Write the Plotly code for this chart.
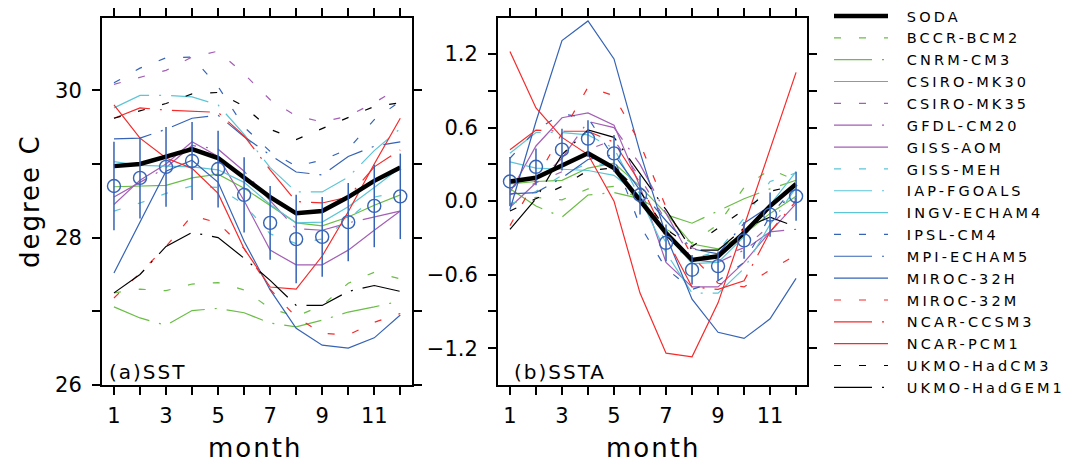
import plotly.graph_objects as go

months = list(range(1, 13))
month_ticktext = ["1", "", "3", "", "5", "", "7", "", "9", "", "11", ""]

# SODA reanalysis (thick black line)
soda_sst = [28.97, 29.00, 29.10, 29.20, 29.08, 28.82, 28.55, 28.33, 28.36, 28.55, 28.77, 28.95]
soda_ssta = [0.16, 0.19, 0.29, 0.39, 0.27, 0.01, -0.26, -0.48, -0.45, -0.26, -0.04, 0.14]

# observation circles with spread bars
obs_sst = [28.70, 28.81, 28.96, 29.04, 28.93, 28.58, 28.20, 27.98, 28.01, 28.21, 28.43, 28.56]
obs_sst_err = [0.60, 0.55, 0.54, 0.53, 0.52, 0.51, 0.50, 0.60, 0.54, 0.53, 0.56, 0.58]
obs_ssta = [0.16, 0.28, 0.42, 0.51, 0.39, 0.05, -0.34, -0.56, -0.53, -0.32, -0.11, 0.04]
obs_ssta_err = [0.20, 0.15, 0.17, 0.15, 0.15, 0.16, 0.15, 0.12, 0.12, 0.15, 0.18, 0.20]

# model SST (panel a) and SSTA (panel b)
bccr_sst = [27.25, 27.30, 27.28, 27.37, 27.39, 27.29, 27.04, 26.93, 27.08, 27.38, 27.53, 27.44]
bccr_ssta = [-0.02, 0.03, 0.01, 0.10, 0.12, 0.02, -0.23, -0.34, -0.19, 0.11, 0.26, 0.17]
cnrm_sst = [27.06, 26.91, 26.81, 27.01, 27.04, 26.98, 26.84, 26.79, 26.88, 26.99, 27.06, 27.14]
cnrm_ssta = [0.10, -0.04, -0.13, 0.05, 0.07, 0.02, -0.11, -0.18, -0.08, 0.02, 0.10, 0.17]
csiro30_sst = [28.69, 28.70, 28.71, 28.81, 28.86, 28.67, 28.44, 28.20, 28.16, 28.28, 28.44, 28.58]
csiro30_ssta = [0.14, 0.16, 0.17, 0.27, 0.31, 0.12, -0.10, -0.35, -0.39, -0.27, -0.10, 0.04]
csiro35_sst = [30.08, 30.18, 30.27, 30.45, 30.53, 30.22, 29.87, 29.65, 29.57, 29.65, 29.83, 30.04]
csiro35_ssta = [0.05, 0.15, 0.24, 0.42, 0.50, 0.19, -0.16, -0.38, -0.46, -0.38, -0.20, 0.01]
gfdl_sst = [28.55, 28.75, 28.95, 29.25, 29.20, 28.90, 28.50, 28.12, 28.10, 28.20, 28.28, 28.36]
gfdl_ssta = [-0.05, 0.15, 0.35, 0.65, 0.60, 0.30, -0.10, -0.48, -0.50, -0.40, -0.25, -0.23]
gissaom_sst = [28.45, 28.78, 29.00, 29.30, 29.10, 28.50, 27.83, 27.63, 27.63, 27.83, 28.10, 28.36]
gissaom_ssta = [0.07, 0.45, 0.68, 0.72, 0.62, 0.12, -0.50, -0.70, -0.70, -0.50, -0.25, -0.02]
gissmeh_sst = [28.36, 28.47, 28.60, 28.70, 28.68, 28.45, 28.05, 27.92, 27.98, 28.25, 28.55, 28.62]
gissmeh_ssta = [-0.03, 0.08, 0.21, 0.31, 0.29, 0.06, -0.34, -0.47, -0.41, -0.14, 0.16, 0.23]
iap_sst = [29.76, 29.93, 29.93, 29.91, 29.80, 29.40, 28.95, 28.62, 28.62, 28.82, 29.18, 29.48]
iap_ssta = [0.39, 0.56, 0.56, 0.54, 0.43, 0.03, -0.42, -0.75, -0.75, -0.55, -0.19, 0.11]
ingv_sst = [29.03, 28.98, 28.97, 28.96, 28.92, 28.75, 28.45, 28.20, 28.21, 28.42, 28.68, 28.95]
ingv_ssta = [0.32, 0.27, 0.26, 0.25, 0.21, 0.04, -0.26, -0.51, -0.50, -0.29, -0.03, 0.24]
ipsl_sst = [30.10, 30.30, 30.44, 30.45, 30.05, 29.50, 29.17, 28.97, 29.05, 29.20, 29.60, 29.85]
ipsl_ssta = [0.35, 0.58, 0.71, 0.68, 0.35, -0.20, -0.55, -0.72, -0.65, -0.50, -0.12, 0.13]
mpi_sst = [29.34, 29.35, 29.47, 29.62, 29.66, 29.37, 29.12, 28.89, 28.85, 29.10, 29.24, 29.30]
mpi_ssta = [0.06, 0.07, 0.19, 0.34, 0.38, 0.09, -0.16, -0.39, -0.43, -0.18, -0.04, 0.02]
miroch_sst = [27.52, 28.20, 28.90, 29.05, 28.75, 27.95, 27.29, 26.77, 26.54, 26.50, 26.64, 26.95]
miroch_ssta = [-0.07, 0.65, 1.31, 1.47, 1.16, 0.40, -0.28, -0.80, -1.07, -1.12, -0.96, -0.63]
mirocm_sst = [27.18, 27.52, 27.88, 28.30, 28.20, 27.85, 27.30, 26.92, 26.70, 26.68, 26.85, 26.97]
mirocm_ssta = [-0.20, 0.18, 0.55, 0.93, 0.86, 0.47, -0.05, -0.45, -0.67, -0.70, -0.56, -0.44]
ccsm_sst = [29.62, 29.76, 29.73, 29.72, 29.70, 29.38, 28.92, 28.49, 28.47, 28.55, 28.96, 29.19]
ccsm_ssta = [0.42, 0.58, 0.57, 0.57, 0.48, 0.15, -0.30, -0.70, -0.72, -0.65, -0.25, 0.00]
pcm_sst = [29.80, 29.35, 29.08, 28.94, 28.60, 27.85, 27.33, 27.30, 27.75, 28.35, 29.00, 29.62]
pcm_ssta = [1.22, 0.76, 0.52, 0.38, 0.00, -0.75, -1.24, -1.27, -0.83, -0.20, 0.43, 1.05]
hadcm3_sst = [29.62, 29.72, 29.82, 29.95, 29.97, 29.78, 29.47, 29.33, 29.48, 29.63, 29.78, 29.83]
hadcm3_ssta = [-0.08, 0.02, 0.12, 0.25, 0.27, 0.08, -0.23, -0.37, -0.22, -0.07, 0.08, 0.13]
hadgem_sst = [27.25, 27.50, 27.88, 28.07, 28.00, 27.72, 27.42, 27.08, 27.08, 27.27, 27.35, 27.27]
hadgem_ssta = [-0.23, 0.02, 0.38, 0.58, 0.52, 0.22, -0.07, -0.40, -0.40, -0.22, -0.13, -0.21]

model_names = ["BCCR-BCM2", "CNRM-CM3", "CSIRO-MK30", "CSIRO-MK35", "GFDL-CM20",
               "GISS-AOM", "GISS-MEH", "IAP-FGOALS", "INGV-ECHAM4", "IPSL-CM4",
               "MPI-ECHAM5", "MIROC-32H", "MIROC-32M", "NCAR-CCSM3", "NCAR-PCM1",
               "UKMO-HadCM3", "UKMO-HadGEM1"]
model_sst = [bccr_sst, cnrm_sst, csiro30_sst, csiro35_sst, gfdl_sst, gissaom_sst,
             gissmeh_sst, iap_sst, ingv_sst, ipsl_sst, mpi_sst, miroch_sst, mirocm_sst,
             ccsm_sst, pcm_sst, hadcm3_sst, hadgem_sst]
model_ssta = [bccr_ssta, cnrm_ssta, csiro30_ssta, csiro35_ssta, gfdl_ssta, gissaom_ssta,
              gissmeh_ssta, iap_ssta, ingv_ssta, ipsl_ssta, mpi_ssta, miroch_ssta, mirocm_ssta,
              ccsm_ssta, pcm_ssta, hadcm3_ssta, hadgem_ssta]

# styles
GREEN, PURPLE, CYAN, BLUE, RED, BLACK = "#6ABD45", "#A35FB4", "#5CC5D6", "#3563B6", "#F52A2A", "#000000"
DASH = "7px,18px"
DASHDOT = "38px,10px,2px,10px"
dash_cycle = [DASH, DASHDOT, "solid"]
model_colors = [GREEN] * 3 + [PURPLE] * 3 + [CYAN] * 3 + [BLUE] * 3 + [RED] * 3 + [BLACK] * 2
model_dashes = (dash_cycle * 6)[:17]

FONT = "DejaVu Sans"


def leg_label(s):
    return '\u00a0\u00a0\u00a0<span style="letter-spacing:3.1px">%s</span>' % s


def wide(s, px):
    return '<span style="letter-spacing:%spx">%s</span>' % (px, s)


fig = go.Figure()

for i, name in enumerate(model_names):
    ln = dict(color=model_colors[i], width=1.2, dash=model_dashes[i])
    fig.add_trace(go.Scatter(x=months, y=model_sst[i], mode="lines", line=ln,
                             name=leg_label(name), legendrank=i + 2,
                             xaxis="x", yaxis="y", hoverinfo="skip"))
    fig.add_trace(go.Scatter(x=months, y=model_ssta[i], mode="lines", line=ln, name=name,
                             showlegend=False, xaxis="x2", yaxis="y2", hoverinfo="skip"))

fig.add_trace(go.Scatter(x=months, y=soda_sst, mode="lines", line=dict(color="black", width=4.5),
                         name=leg_label("SODA"), legendrank=1,
                         xaxis="x", yaxis="y", hoverinfo="skip"))
fig.add_trace(go.Scatter(x=months, y=soda_ssta, mode="lines", line=dict(color="black", width=4.5),
                         name="SODA", showlegend=False, xaxis="x2", yaxis="y2", hoverinfo="skip"))

for yv, ev, xa, ya in [(obs_sst, obs_sst_err, "x", "y"), (obs_ssta, obs_ssta_err, "x2", "y2")]:
    fig.add_trace(go.Scatter(
        x=months, y=yv, mode="markers", showlegend=False, xaxis=xa, yaxis=ya, hoverinfo="skip",
        marker=dict(symbol="circle-open", size=13, color=BLUE, line=dict(width=1.4, color=BLUE)),
        error_y=dict(type="data", array=ev, visible=True, color=BLUE, thickness=1.5, width=0)))

axis_common = dict(ticks="outside", ticklen=8, tickwidth=1.5, tickcolor="black",
                   showline=True, linewidth=2, linecolor="black", mirror="ticks",
                   showgrid=False, zeroline=False, automargin=False,
                   tickfont=dict(family=FONT, size=21, color="black"))

xa_dom = [102 / 1073, 412 / 1073]
xb_dom = [498 / 1073, 807 / 1073]
y_dom = [1 - 385 / 470, 1 - 18 / 470]

fig.update_layout(
    width=1073, height=470,
    margin=dict(l=0, r=0, t=0, b=0, pad=0, autoexpand=False),
    paper_bgcolor="white", plot_bgcolor="white",
    font=dict(family=FONT, color="black"),
    hovermode=False,
    xaxis=dict(domain=xa_dom, range=[0.54, 12.45], tickvals=months, ticktext=month_ticktext,
               anchor="y", ticklabelstandoff=3, **axis_common),
    yaxis=dict(domain=y_dom, range=[26, 30.98], tickvals=[26, 27, 28, 29, 30],
               ticktext=["26", "", "28", "", "30"], anchor="x", ticklabelstandoff=6, **axis_common),
    xaxis2=dict(domain=xb_dom, range=[0.54, 12.42], tickvals=months, ticktext=month_ticktext,
                anchor="y2", ticklabelstandoff=3, **axis_common),
    yaxis2=dict(domain=y_dom, range=[-1.5, 1.494],
                tickvals=[-1.2, -0.9, -0.6, -0.3, 0, 0.3, 0.6, 0.9, 1.2],
                ticktext=["\u22121.2", "", "\u22120.6", "", "0.0", "", "0.6", "", "1.2"],
                anchor="x2", ticklabelstandoff=6, **axis_common),
    showlegend=True,
    legend=dict(x=829 / 1073, y=1.0, xanchor="left", yanchor="top",
                font=dict(family=FONT, size=14.5, color="black"),
                itemwidth=54, bgcolor="rgba(0,0,0,0)", borderwidth=0,
                tracegroupgap=0, traceorder="normal"),
    annotations=[
        dict(text=wide("degree C", 2), x=30 / 1073, y=1 - 201 / 470, xref="paper", yref="paper",
             xanchor="center", yanchor="middle",
             textangle=-90, showarrow=False, font=dict(family=FONT, size=26)),
        dict(text=wide("month", 2), x=255 / 1073, y=1 - 448 / 470, xref="paper", yref="paper",
             xanchor="center", yanchor="middle",
             showarrow=False, font=dict(family=FONT, size=26)),
        dict(text=wide("month", 2), x=653 / 1073, y=1 - 448 / 470, xref="paper", yref="paper",
             xanchor="center", yanchor="middle",
             showarrow=False, font=dict(family=FONT, size=26)),
        dict(text=wide("(a)SST", 2), x=107 / 1073, y=1 - 372 / 470, xref="paper", yref="paper",
             xanchor="left", yanchor="middle", showarrow=False, font=dict(family=FONT, size=20)),
        dict(text=wide("(b)SSTA", 2), x=512 / 1073, y=1 - 372 / 470, xref="paper", yref="paper",
             xanchor="left", yanchor="middle", showarrow=False, font=dict(family=FONT, size=20)),
    ],
)

fig.write_html(
    "out.html",
    config={"displayModeBar": False, "responsive": False},
    post_script=("document.documentElement.style.margin='0px';"
                 "document.body.style.margin='0px';"
                 "document.body.style.padding='0px';"
                 "document.documentElement.style.overflow='hidden';"
                 "document.body.style.overflow='hidden';"),
)
